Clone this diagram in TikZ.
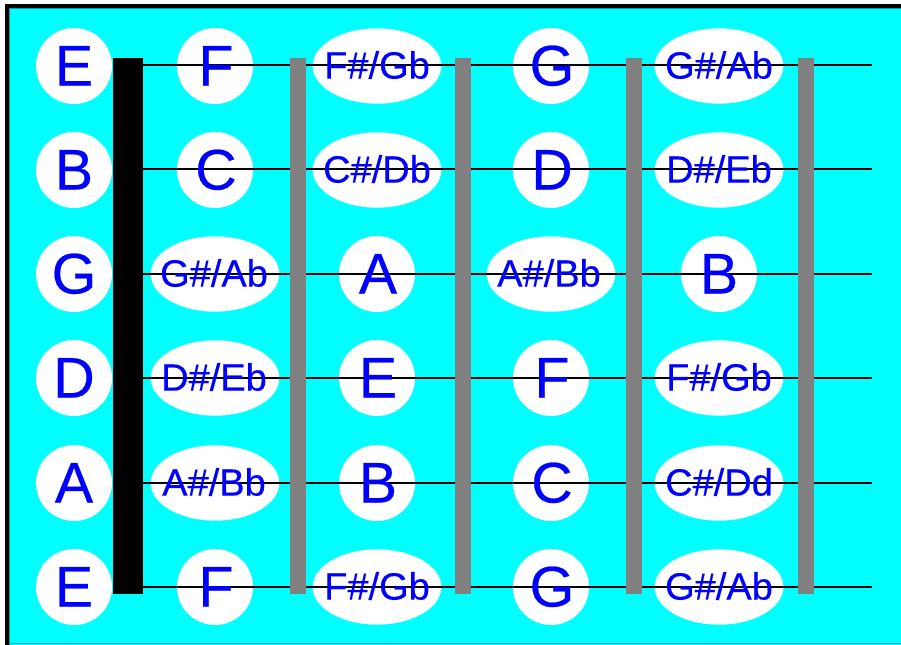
\documentclass[tikz,border=0pt]{standalone}
\usepackage{fontspec}
\setmainfont{Liberation Sans}
\newfontfamily\notefont[FakeBold=0.4]{Liberation Sans}
\usetikzlibrary{shapes.geometric}
\definecolor{fbcyan}{RGB}{0,255,255}
\definecolor{fbdark}{RGB}{0,160,160}
\definecolor{fbgray}{RGB}{128,128,128}
\definecolor{fbblue}{RGB}{0,0,255}
\tikzset{
  notefill/.style={ellipse,fill=white,draw=none,inner sep=0pt},
  onenote/.style={notefill,minimum width=57pt,minimum height=57pt},
  twonote/.style={notefill,minimum width=96.5pt,minimum height=56.5pt},
  bigtxt/.style={text=fbblue,inner sep=0pt,font=\notefont\fontsize{43}{43}\selectfont,text height=30.8pt,text depth=0pt},
  smalltxt/.style={text=fbblue,inner sep=0pt,font=\notefont\fontsize{28.5}{28.5}\selectfont,text height=20.4pt,text depth=0pt},
  fretbar/.style={fill=fbgray,draw=none},
  nutbar/.style={fill=black,draw=none},
  guitarstring/.style={draw=black,line width=1.3}
}
\begin{document}
\begin{tikzpicture}[x=0.75pt,y=-0.75pt]
\useasboundingbox (0,0) rectangle (901,645);
% frame
\fill[white] (0,0) rectangle (901,645);
\fill[fbcyan] (9,8) rectangle (906,650);
\fill[black] (5,4) rectangle (9,650);
\fill[black] (5,4) rectangle (906,8);
\draw[fbdark,line width=0.75] (9.5,8.5) -- (9.5,650);
\draw[fbdark,line width=0.75] (9.5,8.5) -- (906,8.5);
\draw[fbdark,line width=0.75] (9,644) -- (906,644);
% note backgrounds
\foreach \row/\y/\a/\b/\c/\d/\e in {
  1/66/1/1/2/1/2,
  2/170/1/1/2/1/2,
  3/274/1/2/1/2/1,
  4/378/1/2/1/1/2,
  5/483/1/2/1/1/2,
  6/587/1/1/2/1/2}{
  \foreach \col/\x/\k in {0/74/\a,1/215/\b,2/377/\c,3/551/\d,4/719/\e}{
    \ifnum\k=1
      \node[onenote] (bg-\row-\col) at (\x,\y) {};
    \else
      \node[twonote] (bg-\row-\col) at (\x,\y) {};
    \fi
  }
}
% strings
\foreach \row/\y in {1/65,2/169,3/274,4/378,5/483,6/587}{
  \coordinate (s\row a) at (143,\y);
  \coordinate (s\row b) at (872,\y);
  \draw[guitarstring] (s\row a) -- (s\row b);
}
% nut and frets
\fill[nutbar] (113,58) rectangle (143,594);
\foreach \fx in {290,455,626,798}{
  \fill[fretbar] (\fx,58) rectangle ({\fx+16},594);
}
% row 1
\node[bigtxt] (t-1-0) at (74,65) {E};
\node[bigtxt] (t-1-1) at (216,65) {F};
\node[smalltxt] (t-1-2) at (377,65) {F\#/Gb};
\node[bigtxt] (t-1-3) at (552,65) {G};
\node[smalltxt] (t-1-4) at (719,65) {G\#/Ab};
% row 2
\node[bigtxt] (t-2-0) at (74,169) {B};
\node[bigtxt] (t-2-1) at (216,169) {C};
\node[smalltxt] (t-2-2) at (377,169) {C\#/Db};
\node[bigtxt] (t-2-3) at (552,169) {D};
\node[smalltxt] (t-2-4) at (719,169) {D\#/Eb};
% row 3
\node[bigtxt] (t-3-0) at (74,273) {G};
\node[smalltxt] (t-3-1) at (214,273) {G\#/Ab};
\node[bigtxt] (t-3-2) at (378,273) {A};
\node[smalltxt] (t-3-3) at (549,273) {A\#/Bb};
\node[bigtxt] (t-3-4) at (719,273) {B};
% row 4
\node[bigtxt] (t-4-0) at (74,377) {D};
\node[smalltxt] (t-4-1) at (214,377) {D\#/Eb};
\node[bigtxt] (t-4-2) at (378,377) {E};
\node[bigtxt] (t-4-3) at (552,377) {F};
\node[smalltxt] (t-4-4) at (719,377) {F\#/Gb};
% row 5
\node[bigtxt] (t-5-0) at (74,482) {A};
\node[smalltxt] (t-5-1) at (214,482) {A\#/Bb};
\node[bigtxt] (t-5-2) at (378,482) {B};
\node[bigtxt] (t-5-3) at (552,482) {C};
\node[smalltxt] (t-5-4) at (719,482) {C\#/Dd};
% row 6
\node[bigtxt] (t-6-0) at (74,586) {E};
\node[bigtxt] (t-6-1) at (216,586) {F};
\node[smalltxt] (t-6-2) at (377,586) {F\#/Gb};
\node[bigtxt] (t-6-3) at (552,586) {G};
\node[smalltxt] (t-6-4) at (719,586) {G\#/Ab};
\end{tikzpicture}
\end{document}
